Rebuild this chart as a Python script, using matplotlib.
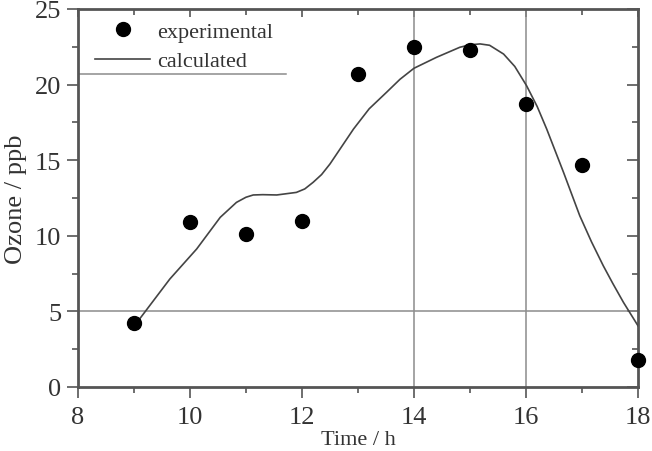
import matplotlib
matplotlib.use('Agg')
import matplotlib.pyplot as plt
from matplotlib.ticker import MultipleLocator

plt.rcParams['font.family'] = ['Liberation Serif', 'DejaVu Serif']

# measured ozone (ppb) vs time of day (h)
exp_time = [9, 10, 11, 12, 13, 14, 15, 16, 17, 18]
exp_ozone = [4.2, 10.9, 10.1, 10.95, 20.7, 22.5, 22.3, 18.7, 14.7, 1.8]

# model curve
calc_time = [9.08, 9.64, 10.12, 10.54, 10.83, 11.0, 11.13, 11.3, 11.55, 11.9,
             12.05, 12.2, 12.35, 12.5, 12.68, 12.92, 13.2, 13.51, 13.75, 14.0,
             14.4, 14.82, 15.0, 15.18, 15.35, 15.6, 15.8, 16.01, 16.2, 16.37,
             16.67, 16.96, 17.17, 17.38, 17.55, 17.74, 18.0]
calc_ozone = [4.4, 7.14, 9.13, 11.22, 12.21, 12.55, 12.7, 12.72, 12.7, 12.87,
              13.1, 13.54, 14.05, 14.75, 15.74, 17.06, 18.4, 19.49, 20.35, 21.08,
              21.8, 22.47, 22.63, 22.69, 22.6, 22.02, 21.2, 19.93, 18.55, 17.06,
              14.2, 11.33, 9.6, 8.02, 6.85, 5.6, 4.05]

# stray reference lines present in the original figure
vlines_x = [14, 16]
hline_y = 5
legend_rule_x = [8, 11.71]
legend_rule_y = [20.7, 20.7]

fig = plt.figure(figsize=(6.52, 4.52), dpi=100)
ax = fig.add_axes([0.1196, 0.1416, 0.8589, 0.8363])

for x in vlines_x:
    ax.axvline(x, color='#8c8c8c', lw=1.1, zorder=1)
ax.axhline(hline_y, color='#8c8c8c', lw=1.1, zorder=1)
ax.plot(legend_rule_x, legend_rule_y, color='#8c8c8c', lw=1.1, zorder=1)

ax.plot(exp_time, exp_ozone, 'o', color='black', ms=10, clip_on=False,
        zorder=4, label='experimental')
ax.plot(calc_time, calc_ozone, '-', color='#444444', lw=1.2, zorder=3,
        label='calculated')

ax.set_xlim(8, 18)
ax.set_ylim(0, 25)
ax.xaxis.set_major_locator(MultipleLocator(2))
ax.xaxis.set_minor_locator(MultipleLocator(1))
ax.yaxis.set_major_locator(MultipleLocator(5))
ax.yaxis.set_minor_locator(MultipleLocator(2.5))

ax.tick_params(which='both', direction='out', colors='#555555',
               labelcolor='#333333', labelsize=19, width=1.2)
ax.tick_params(which='major', length=8, pad=4)
ax.tick_params(which='minor', length=4)
ax.tick_params(axis='x', which='major', pad=6)

# ticks on top and right point inward
ax2 = ax.secondary_xaxis('top')
ax2.xaxis.set_major_locator(MultipleLocator(2))
ax2.xaxis.set_minor_locator(MultipleLocator(1))
ax2.tick_params(which='both', direction='in', labeltop=False, colors='#555555', width=1.2)
ax2.tick_params(which='major', length=6)
ax2.tick_params(which='minor', length=4)
ax2.spines['top'].set_visible(False)
ax3 = ax.secondary_yaxis('right')
ax3.yaxis.set_major_locator(MultipleLocator(5))
ax3.yaxis.set_minor_locator(MultipleLocator(2.5))
ax3.tick_params(which='both', direction='in', labelright=False, colors='#555555', width=1.2)
ax3.tick_params(which='major', length=8)
ax3.tick_params(which='minor', length=4)
ax3.spines['right'].set_visible(False)

for s in ax.spines.values():
    s.set_color('#555555')
    s.set_linewidth(2)

ax.set_ylabel('Ozone / ppb', fontsize=19, color='#333333', labelpad=6)
ax.set_xlabel('Time / h', fontsize=16, color='#333333')
ax.xaxis.set_label_coords(0.5, -0.113)

ax.legend(loc='upper left', bbox_to_anchor=(0.03, 0.967), frameon=False,
          fontsize=16, handlelength=2.5, handletextpad=0.3, labelspacing=0.4,
          borderpad=0, borderaxespad=0, labelcolor='#333333')

fig.savefig('out.png', dpi=100)
